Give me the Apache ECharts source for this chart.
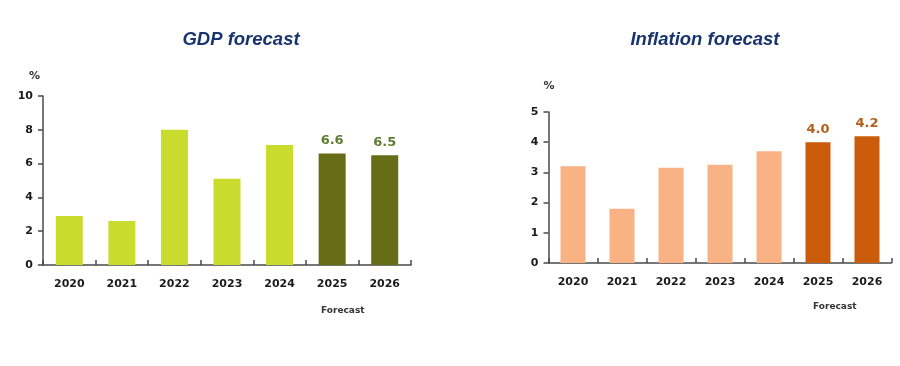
<!DOCTYPE html>
<html><head><meta charset="utf-8">
<script src="https://cdn.jsdelivr.net/npm/echarts@6/dist/echarts.min.js"></script>
<style>html,body{margin:0;padding:0;background:#fff}#c{width:900px;height:366px}</style>
</head><body><div id="c"></div>
<script>
var years = ['2020','2021','2022','2023','2024','2025','2026'];
var gdpValues = [2.9, 2.6, 8.0, 5.1, 7.1, 6.6, 6.5];
var inflationValues = [3.2, 1.8, 3.15, 3.25, 3.7, 4.0, 4.2];
var forecastFlags = [false, false, false, false, false, true, true];
var gdpTicks = [0, 2, 4, 6, 8, 10];
var inflationTicks = [0, 1, 2, 3, 4, 5];

var FONT = 'DejaVu Sans';
var axisColor = '#4a4a4a';
var tickText = '#1a1a1a';

function makeData(vals, light, dark, labelColor) {
  return vals.map(function (v, i) {
    var f = forecastFlags[i];
    return {
      value: v,
      itemStyle: { color: f ? dark : light },
      label: {
        show: f, position: 'top', distance: 6,
        color: labelColor, fontFamily: FONT, fontWeight: 'bold', fontSize: 13,
        formatter: function (p) { return p.value.toFixed(1); }
      }
    };
  });
}

function xAxisCfg(gi) {
  return {
    type: 'category', gridIndex: gi, data: years,
    axisLine: { lineStyle: { color: axisColor, width: 1.5 } },
    axisTick: { show: true, inside: true, length: 5, lineStyle: { color: axisColor, width: 1.5 } },
    axisLabel: { color: tickText, fontFamily: FONT, fontWeight: 'bold', fontSize: 11, margin: 14 }
  };
}
function yAxisCfg(gi, ticks, nameGap) {
  return {
    type: 'value', gridIndex: gi, min: ticks[0], max: ticks[ticks.length - 1],
    interval: ticks[1] - ticks[0],
    name: '%', nameLocation: 'end', nameGap: nameGap,
    nameTextStyle: { color: '#333', fontFamily: FONT, fontWeight: 'bold', fontSize: 11, align: 'right', padding: [0, gi === 0 ? 3 : -6, 0, 0] },
    axisLine: { show: true, lineStyle: { color: axisColor, width: 1.5 } },
    axisTick: { show: true, length: 5, lineStyle: { color: axisColor, width: 1.5 } },
    axisLabel: { color: tickText, fontFamily: FONT, fontWeight: 'bold', fontSize: 11, margin: 10 },
    splitLine: { show: false }
  };
}

var chart = echarts.init(document.getElementById('c'), null, { renderer: 'canvas' });
chart.setOption({
  animation: false,
  backgroundColor: '#fff',
  title: [
    { text: 'GDP forecast', left: 236, top: 25, textAlign: 'center',
      textStyle: { color: '#17346e', fontFamily: 'Liberation Sans', fontStyle: 'italic', fontWeight: 'bold', fontSize: 18.5 } },
    { text: 'Inflation forecast', left: 700, top: 25, textAlign: 'center',
      textStyle: { color: '#17346e', fontFamily: 'Liberation Sans', fontStyle: 'italic', fontWeight: 'bold', fontSize: 18.5 } }
  ],
  grid: [
    { left: 43, top: 96, width: 368, height: 169 },
    { left: 548.5, top: 112, width: 343, height: 151 }
  ],
  xAxis: [xAxisCfg(0), xAxisCfg(1)],
  yAxis: [yAxisCfg(0, gdpTicks, 14), yAxisCfg(1, inflationTicks, 20)],
  graphic: [
    { type: 'text', left: 343 - 22, top: 306, style: { text: 'Forecast', fill: '#333', font: 'bold 9px "DejaVu Sans"' } },
    { type: 'text', left: 835 - 22, top: 302, style: { text: 'Forecast', fill: '#333', font: 'bold 9px "DejaVu Sans"' } }
  ],
  series: [
    { type: 'bar', xAxisIndex: 0, yAxisIndex: 0, barWidth: 27,
      data: makeData(gdpValues, '#c9dc2d', '#666d16', '#5e7d33') },
    { type: 'bar', xAxisIndex: 1, yAxisIndex: 1, barWidth: 25,
      data: makeData(inflationValues, '#f9b283', '#cb5c0b', '#b5601c') }
  ]
});
</script></body></html>
